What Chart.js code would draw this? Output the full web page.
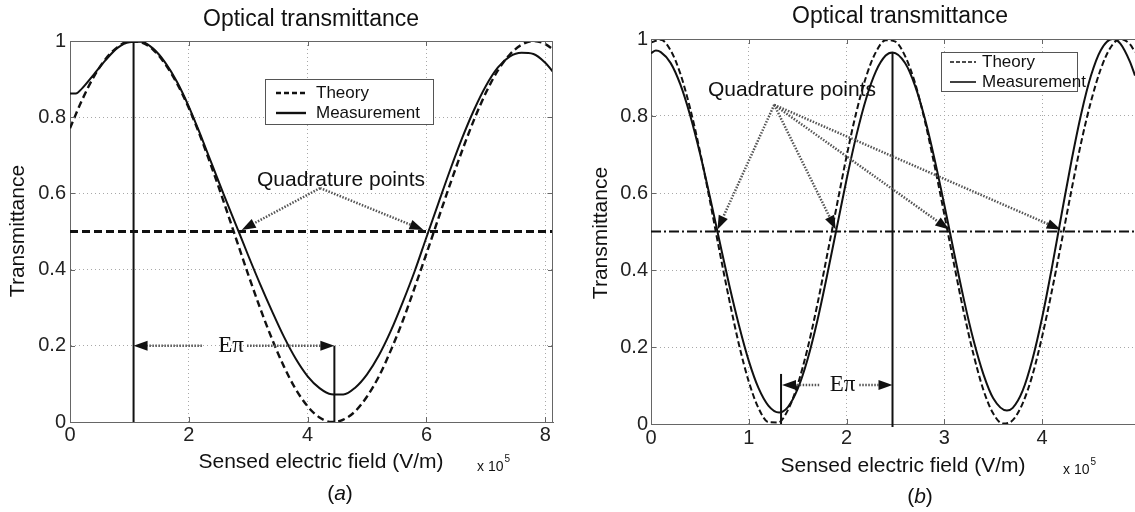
<!DOCTYPE html>
<html>
<head>
<meta charset="utf-8">
<script src="https://cdn.jsdelivr.net/npm/chart.js@4"></script>
<style>
  html, body { margin: 0; padding: 0; background: #fff; }
  #wrap { position: relative; width: 1135px; height: 512px; overflow: hidden; }
  canvas { position: absolute; top: 0; }
  #chartA { left: 0; }
  #chartB { left: 567px; }
</style>
</head>
<body>
<div id="wrap">
  <canvas id="chartA" width="567" height="512"></canvas>
  <canvas id="chartB" width="568" height="512"></canvas>
</div>
<script>
// ticks
const xTicksA = [0, 2, 4, 6, 8];
const xTicksB = [0, 1, 2, 3, 4];
const yTicks = [0, 0.2, 0.4, 0.6, 0.8, 1];

// (a) theorie / mesure (x en 1e5 V/m)
const xTheoryA = [0, 0.2, 0.4, 0.6, 0.8, 1.0, 1.2, 1.4, 1.6, 1.8, 2.0, 2.2, 2.4, 2.6, 2.8, 3.0, 3.2, 3.4, 3.6, 3.8,
  4.0, 4.2, 4.4, 4.6, 4.8, 5.0, 5.2, 5.4, 5.6, 5.8, 6.0, 6.2, 6.4, 6.6, 6.8, 7.0, 7.2, 7.4, 7.6, 7.8, 8.0, 8.13];
const theoryA = [0.771, 0.844, 0.906, 0.953, 0.984, 0.999, 0.996, 0.977, 0.940, 0.889, 0.824, 0.747, 0.662, 0.572,
  0.479, 0.387, 0.299, 0.218, 0.146, 0.086, 0.041, 0.012, 0.000, 0.006, 0.028, 0.067, 0.120, 0.188, 0.265, 0.352,
  0.442, 0.534, 0.625, 0.712, 0.793, 0.864, 0.922, 0.964, 0.990, 1.000, 0.992, 0.978];
const xMeasA = [0, 0.1, 0.2, 0.4, 0.6, 0.8, 1.0, 1.2, 1.4, 1.6, 1.8, 2.0, 2.2, 2.4, 2.6, 2.8, 3.0, 3.2, 3.4, 3.6, 3.8,
  4.0, 4.2, 4.4, 4.6, 4.8, 5.0, 5.2, 5.4, 5.6, 5.8, 6.0, 6.2, 6.4, 6.6, 6.8, 7.0, 7.2, 7.4, 7.6, 7.8, 8.0, 8.13];
const measA = [0.862, 0.862, 0.875, 0.912, 0.950, 0.982, 0.997, 0.998, 0.980, 0.944, 0.893, 0.828, 0.752, 0.672,
  0.592, 0.515, 0.437, 0.362, 0.291, 0.224, 0.166, 0.120, 0.089, 0.073, 0.072, 0.090, 0.125, 0.175, 0.239, 0.314,
  0.395, 0.485, 0.574, 0.662, 0.745, 0.819, 0.882, 0.930, 0.959, 0.969, 0.966, 0.943, 0.919];

// (b)
const xTheoryB = [0, 0.1, 0.2, 0.3, 0.4, 0.5, 0.6, 0.7, 0.8, 0.9, 1.0, 1.1, 1.2, 1.3, 1.4, 1.5, 1.6, 1.7, 1.8, 1.9,
  2.0, 2.1, 2.2, 2.3, 2.4, 2.5, 2.6, 2.7, 2.8, 2.9, 3.0, 3.1, 3.2, 3.3, 3.4, 3.5, 3.6, 3.7, 3.8, 3.9,
  4.0, 4.1, 4.2, 4.3, 4.4, 4.5, 4.6, 4.7, 4.8, 4.9, 4.95];
const theoryB = [0.991, 0.998, 0.971, 0.910, 0.820, 0.709, 0.583, 0.450, 0.323, 0.206, 0.110, 0.041, 0.005, 0.004,
  0.036, 0.102, 0.195, 0.309, 0.437, 0.567, 0.695, 0.810, 0.902, 0.966, 0.997, 0.993, 0.955, 0.886, 0.788, 0.671,
  0.544, 0.414, 0.289, 0.179, 0.088, 0.027, 0.001, 0.010, 0.053, 0.126, 0.227, 0.346, 0.475, 0.607, 0.732, 0.838,
  0.922, 0.978, 1.000, 0.986, 0.966];
const xMeasB = [0, 0.05, 0.1, 0.2, 0.3, 0.4, 0.5, 0.6, 0.7, 0.8, 0.9, 1.0, 1.1, 1.2, 1.31, 1.4, 1.5, 1.6, 1.7, 1.8, 1.9,
  2.0, 2.1, 2.2, 2.3, 2.4, 2.47, 2.6, 2.7, 2.8, 2.9, 3.0, 3.1, 3.2, 3.3, 3.4, 3.5, 3.64, 3.7, 3.8, 3.9,
  4.0, 4.1, 4.2, 4.3, 4.4, 4.5, 4.6, 4.72, 4.8, 4.9, 4.95];
const measB = [0.963, 0.970, 0.966, 0.938, 0.882, 0.802, 0.704, 0.593, 0.476, 0.361, 0.256, 0.164, 0.093, 0.048,
  0.030, 0.044, 0.091, 0.167, 0.267, 0.385, 0.510, 0.635, 0.749, 0.845, 0.916, 0.957, 0.965, 0.937, 0.879, 0.794,
  0.688, 0.569, 0.444, 0.323, 0.216, 0.129, 0.067, 0.035, 0.042, 0.086, 0.167, 0.276, 0.406, 0.546, 0.683, 0.806,
  0.905, 0.971, 1.000, 0.988, 0.940, 0.905];

// annotations (unites des axes)
const quadLevel = 0.5;
const vLinesA = [[1.07, 0, 1], [4.45, 0, 0.2]];
const vLinesB = [[2.47, -0.008, 0.965], [1.33, 0, 0.13]];
const quadFromA = [4.21, 0.614];
const quadToA = [[2.89, 0.504], [5.95, 0.504]];
const quadFromB = [1.26, 0.829];
const quadToB = [[0.68, 0.505], [1.89, 0.505], [3.05, 0.505], [4.19, 0.505]];
const ePiA = { y: 0.2, from: 1.07, to: 4.45, gap: [2.22, 2.98], label: 2.71 };
const ePiB = { y: 0.101, from: 1.34, to: 2.47, gap: [1.72, 2.13], label: 1.96 };

const SANS = "'Liberation Sans', Arial, sans-serif";
const SERIF = "'Liberation Serif', 'Times New Roman', serif";

function pts(xs, ys) { return xs.map((x, i) => ({ x: x, y: ys[i] })); }

function arrow(ctx, x1, y1, x2, y2) {
    const a = Math.atan2(y2 - y1, x2 - x1);
    const len = 14, half = 5;
    const bx = x2 - len * Math.cos(a), by = y2 - len * Math.sin(a);
    ctx.save();
    ctx.strokeStyle = '#555';
    ctx.lineWidth = 2.5;
    ctx.setLineDash([1.5, 1.5]);
    ctx.beginPath(); ctx.moveTo(x1, y1); ctx.lineTo(bx, by); ctx.stroke();
    ctx.setLineDash([]);
    ctx.fillStyle = '#111';
    ctx.beginPath();
    ctx.moveTo(x2, y2);
    ctx.lineTo(bx + half * Math.sin(a), by - half * Math.cos(a));
    ctx.lineTo(bx - half * Math.sin(a), by + half * Math.cos(a));
    ctx.closePath(); ctx.fill();
    ctx.restore();
}

function decorPlugin(o) {
    return {
        id: 'decor',
        afterDraw(chart) {
            const { ctx, chartArea: ca, scales: { x, y } } = chart;
            const px = v => x.getPixelForValue(v), py = v => y.getPixelForValue(v);
            ctx.save();
            // cadre + graduations vers l'interieur
            ctx.strokeStyle = '#666'; ctx.lineWidth = 1;
            ctx.beginPath();
            ctx.moveTo(ca.left, ca.top + 0.5); ctx.lineTo(ca.right, ca.top + 0.5);
            if (o.rightFrame) { ctx.moveTo(ca.right - 0.5, ca.top); ctx.lineTo(ca.right - 0.5, ca.bottom); }
            o.xTicks.forEach(v => {
                const X = Math.round(px(v)) + 0.5;
                ctx.moveTo(X, ca.bottom); ctx.lineTo(X, ca.bottom - 5);
                ctx.moveTo(X, ca.top); ctx.lineTo(X, ca.top + 5);
            });
            yTicks.forEach(v => {
                const Y = Math.round(py(v)) + 0.5;
                ctx.moveTo(ca.left, Y); ctx.lineTo(ca.left + 5, Y);
                if (o.rightFrame) { ctx.moveTo(ca.right, Y); ctx.lineTo(ca.right - 5, Y); }
            });
            ctx.stroke();

            // fleches "Quadrature points"
            o.quadTo.forEach(t => arrow(ctx, px(o.quadFrom[0]), py(o.quadFrom[1]), px(t[0]), py(t[1])));
            ctx.fillStyle = '#111';
            ctx.font = '21px ' + SANS;
            ctx.textAlign = 'center'; ctx.textBaseline = 'middle';
            ctx.fillText('Quadrature points', o.quadText[0], o.quadText[1]);

            // fleche E pi
            const e = o.ePi;
            arrow(ctx, px(e.gap[0]), py(e.y), px(e.from), py(e.y));
            arrow(ctx, px(e.gap[1]), py(e.y), px(e.to), py(e.y));
            ctx.fillStyle = '#111';
            ctx.font = '23px ' + SERIF;
            ctx.fillText('E\u03c0', px(e.label), py(e.y));

            // legende
            const L = o.legend;
            ctx.fillStyle = '#fff';
            ctx.fillRect(L.x, L.y, L.w, L.h);
            ctx.strokeStyle = '#555'; ctx.lineWidth = 1;
            ctx.strokeRect(L.x + 0.5, L.y + 0.5, L.w, L.h);
            ctx.strokeStyle = '#111'; ctx.lineWidth = L.lw;
            ctx.setLineDash(L.dash);
            ctx.beginPath(); ctx.moveTo(L.lx0, L.r1); ctx.lineTo(L.lx1, L.r1); ctx.stroke();
            ctx.setLineDash([]);
            ctx.beginPath(); ctx.moveTo(L.lx0, L.r2); ctx.lineTo(L.lx1, L.r2); ctx.stroke();
            ctx.fillStyle = '#111';
            ctx.font = '17px ' + SANS;
            ctx.textAlign = 'left';
            ctx.fillText('Theory', L.tx, L.r1);
            ctx.fillText('Measurement', L.tx, L.r2);

            // titres
            ctx.textAlign = 'center';
            ctx.font = '23px ' + SANS;
            ctx.fillText('Optical transmittance', o.title[0], o.title[1]);
            ctx.font = '21px ' + SANS;
            ctx.fillText('Sensed electric field (V/m)', o.xTitle[0], o.xTitle[1]);
            ctx.save();
            ctx.translate(o.yTitle[0], o.yTitle[1]);
            ctx.rotate(-Math.PI / 2);
            ctx.fillText('Transmittance', 0, 0);
            ctx.restore();

            // x 10^5
            ctx.textAlign = 'left'; ctx.textBaseline = 'alphabetic';
            ctx.font = '14px ' + SANS;
            ctx.fillText('x 10', o.exp[0], o.exp[1]);
            const w = ctx.measureText('x 10').width;
            ctx.font = '10px ' + SANS;
            ctx.fillText('5', o.exp[0] + w + 1, o.exp[1] - 9);

            // (a) / (b)
            ctx.textBaseline = 'middle';
            ctx.font = '21px ' + SANS;
            const wp = ctx.measureText('(').width, wq = ctx.measureText(')').width;
            ctx.font = 'italic 21px ' + SANS;
            const wl = ctx.measureText(o.tag).width;
            let cx = o.tagPos[0] - (wp + wl + wq) / 2;
            ctx.font = '21px ' + SANS; ctx.fillText('(', cx, o.tagPos[1]); cx += wp;
            ctx.font = 'italic 21px ' + SANS; ctx.fillText(o.tag, cx, o.tagPos[1]); cx += wl;
            ctx.font = '21px ' + SANS; ctx.fillText(')', cx, o.tagPos[1]);
            ctx.restore();
        }
    };
}

function buildChart(id, o) {
    const datasets = [
        { label: 'Theory', data: pts(o.theory.x, o.theory.y), borderColor: '#111', borderWidth: o.theory.width,
          borderDash: o.theory.dash, pointRadius: 0, cubicInterpolationMode: 'monotone', fill: false },
        { label: 'Measurement', data: pts(o.meas.x, o.meas.y), borderColor: '#111', borderWidth: 2,
          pointRadius: 0, cubicInterpolationMode: 'monotone', fill: false },
        { label: 'level', data: [{ x: 0, y: quadLevel }, { x: o.xMax, y: quadLevel }], borderColor: '#111',
          borderWidth: o.level.width, borderDash: o.level.dash, pointRadius: 0 }
    ];
    o.vLines.forEach(v => datasets.push({
        label: 'v', data: [{ x: v[0], y: v[1] }, { x: v[0], y: v[2] }], borderColor: '#111',
        borderWidth: 2, pointRadius: 0, clip: false
    }));

    return new Chart(document.getElementById(id), {
        type: 'line',
        data: { datasets: datasets },
        options: {
            responsive: false,
            animation: false,
            events: [],
            layout: { padding: { top: o.top, right: o.right, left: 0, bottom: 0 } },
            plugins: { legend: { display: false }, tooltip: { enabled: false } },
            scales: {
                x: {
                    type: 'linear', min: 0, max: o.xMax,
                    afterFit: s => { s.height = o.xAxisH; },
                    afterBuildTicks: s => { s.ticks = o.xTicks.map(v => ({ value: v })); },
                    ticks: { font: { family: SANS, size: 20 }, color: '#222', padding: o.xPad, maxRotation: 0,
                             callback: v => String(v) },
                    grid: { color: '#a8a8a8', lineWidth: 1, drawTicks: false },
                    border: { color: '#666', width: 1, dash: [1, 3] }
                },
                y: {
                    min: 0, max: 1,
                    afterFit: s => { s.width = o.yAxisW; },
                    afterBuildTicks: s => { s.ticks = yTicks.map(v => ({ value: v })); },
                    ticks: { font: { family: SANS, size: 20 }, color: '#222', padding: o.yPad,
                             callback: v => String(v) },
                    grid: { color: '#a8a8a8', lineWidth: 1, drawTicks: false },
                    border: { color: '#666', width: 1, dash: [1, 3] }
                }
            }
        },
        plugins: [decorPlugin(o)]
    });
}

buildChart('chartA', {
    xMax: 8.13, top: 41, right: 14, yAxisW: 70, xAxisH: 90, xPad: 1, yPad: 4, rightFrame: true,
    xTicks: xTicksA,
    theory: { x: xTheoryA, y: theoryA, width: 2.4, dash: [7, 4] },
    meas: { x: xMeasA, y: measA },
    level: { width: 3, dash: [8, 4] },
    vLines: vLinesA,
    quadFrom: quadFromA, quadTo: quadToA, quadText: [341, 180],
    ePi: ePiA,
    legend: { x: 265, y: 79, w: 168, h: 45, lx0: 276, lx1: 306, tx: 316, r1: 93, r2: 113, lw: 2.4, dash: [5, 3] },
    title: [311, 20], xTitle: [321, 462], yTitle: [18, 231],
    exp: [477, 471], tag: 'a', tagPos: [340, 494]
});

buildChart('chartB', {
    xMax: 4.95, top: 39, right: 0, yAxisW: 84, xAxisH: 88, xPad: 2, yPad: 3, rightFrame: false,
    xTicks: xTicksB,
    theory: { x: xTheoryB, y: theoryB, width: 2, dash: [6, 3] },
    meas: { x: xMeasB, y: measB },
    level: { width: 2, dash: [10, 3, 2, 3] },
    vLines: vLinesB,
    quadFrom: quadFromB, quadTo: quadToB, quadText: [225, 90],
    ePi: ePiB,
    legend: { x: 374, y: 52, w: 136, h: 39, lx0: 383, lx1: 409, tx: 415, r1: 62, r2: 82, lw: 1.6, dash: [4, 2] },
    title: [333, 17], xTitle: [336, 466], yTitle: [34, 233],
    exp: [496, 474], tag: 'b', tagPos: [353, 497]
});
</script>
</body>
</html>
